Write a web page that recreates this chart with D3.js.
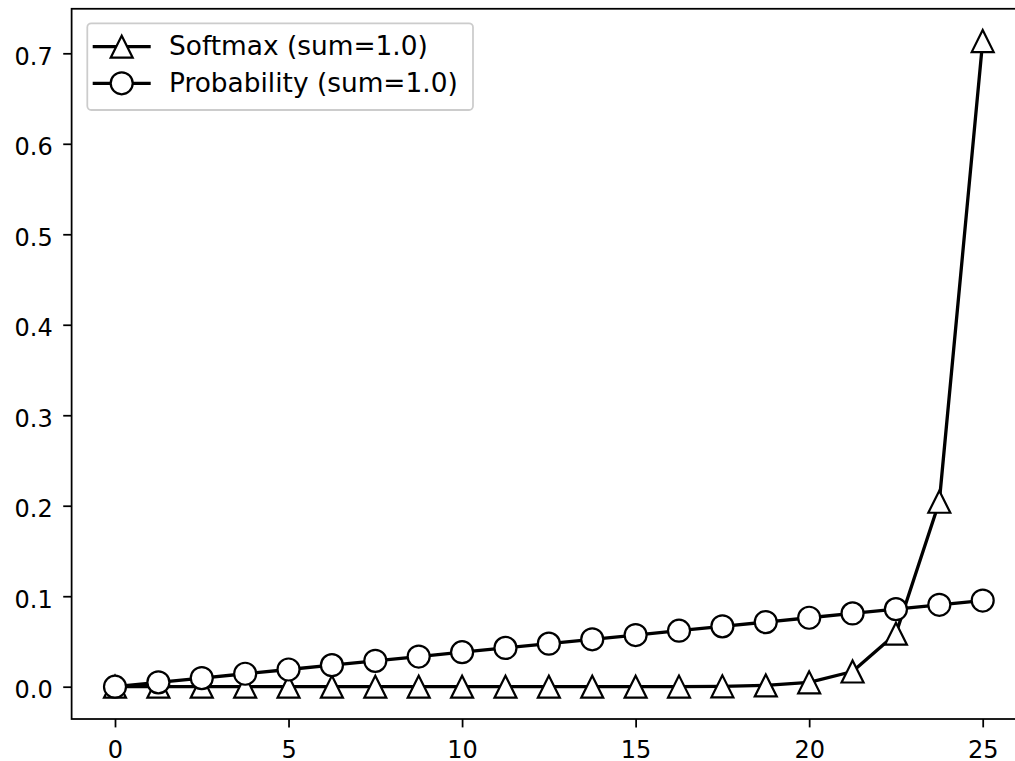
<!DOCTYPE html>
<html>
<head>
<meta charset="utf-8">
<script src="https://cdn.jsdelivr.net/npm/d3@7"></script>
<style>
  html, body { margin: 0; padding: 0; background: #fff; overflow: hidden; }
  svg { display: block; }
  text { font-family: "DejaVu Sans", sans-serif; fill: #000; }
</style>
</head>
<body>
<svg id="chart" width="1015" height="761"></svg>
<script>
const xValues = [0, 1.25, 2.5, 3.75, 5, 6.25, 7.5, 8.75, 10, 11.25, 12.5, 13.75, 15, 16.25, 17.5, 18.75, 20, 21.25, 22.5, 23.75, 25];
const softmaxValues = [0.0000, 0.0000, 0.0000, 0.0000, 0.0000, 0.0000, 0.0000, 0.0000, 0.0000, 0.0000, 0.0000, 0.0000, 0.0000, 0.0001, 0.0004, 0.0014, 0.0048, 0.0168, 0.0586, 0.2044, 0.7135];
const probabilityValues = [0.0000, 0.0048, 0.0095, 0.0143, 0.0190, 0.0238, 0.0286, 0.0333, 0.0381, 0.0429, 0.0476, 0.0524, 0.0571, 0.0619, 0.0667, 0.0714, 0.0762, 0.0810, 0.0857, 0.0905, 0.0952];
const xTicks = [0, 5, 10, 15, 20, 25];
const yTicks = [0.0, 0.1, 0.2, 0.3, 0.4, 0.5, 0.6, 0.7];
const seriesNames = ["Softmax (sum=1.0)", "Probability (sum=1.0)"];

const svg = d3.select("#chart");
const x = d3.scaleLinear().domain([0, 25]).range([115, 982.7]);
const y = d3.scaleLinear().domain([0, 0.7]).range([686.7, 53.3]);

const axLeft = x(-1.25), axRight = x(26.25);
const axTop = y(0.7492), axBottom = y(-0.0357);

const LW = 3.3, MS = 22, MEW = 2.2, FS_TICK = 24, FS_LEG = 26.4, TL = 8.4;

// x axis
const xAxis = svg.append("g").attr("transform", `translate(0,${axBottom})`)
  .call(d3.axisBottom(x).tickValues(xTicks).tickFormat(d3.format("d")).tickSize(TL).tickPadding(13.3));
xAxis.select(".domain").remove();
xAxis.selectAll("line").attr("stroke", "#000").attr("stroke-width", 1.76);
xAxis.selectAll("text").attr("font-size", FS_TICK).attr("font-family", "DejaVu Sans").attr("fill", "#000");

// y axis
const yAxis = svg.append("g").attr("transform", `translate(${axLeft},0)`)
  .call(d3.axisLeft(y).tickValues(yTicks).tickFormat(d3.format(".1f")).tickSize(TL).tickPadding(10.5));
yAxis.select(".domain").remove();
yAxis.selectAll("line").attr("stroke", "#000").attr("stroke-width", 1.76);
yAxis.selectAll("text").attr("font-size", FS_TICK).attr("font-family", "DejaVu Sans").attr("fill", "#000").attr("dy", "0.46em");

// frame
svg.append("rect").attr("x", axLeft).attr("y", axTop).attr("width", axRight - axLeft).attr("height", axBottom - axTop)
  .attr("fill", "none").attr("stroke", "#000").attr("stroke-width", 1.76);

const triPath = (s) => { const h = s / 2; return `M0,${-h}L${-h},${h}L${h},${h}Z`; };

const line = d3.line();

function drawSeries(vals, marker) {
  const pts = xValues.map((xv, i) => [x(xv), y(vals[i])]);
  svg.append("path").attr("d", line(pts)).attr("fill", "none").attr("stroke", "#000")
    .attr("stroke-width", LW).attr("stroke-linejoin", "round").attr("stroke-linecap", "square");
  const g = svg.append("g");
  pts.forEach(p => {
    if (marker === "tri") {
      g.append("path").attr("d", triPath(MS)).attr("transform", `translate(${p[0]},${p[1]})`)
        .attr("fill", "#fff").attr("stroke", "#000").attr("stroke-width", MEW).attr("stroke-linejoin", "miter");
    } else {
      g.append("circle").attr("cx", p[0]).attr("cy", p[1]).attr("r", MS / 2)
        .attr("fill", "#fff").attr("stroke", "#000").attr("stroke-width", MEW);
    }
  });
}
drawSeries(softmaxValues, "tri");
drawSeries(probabilityValues, "circle");

// legend
const lg = svg.append("g");
lg.append("rect").attr("x", 87.3).attr("y", 23.3).attr("width", 473 - 87.3).attr("height", 110 - 23.3)
  .attr("rx", 4).attr("fill", "#fff").attr("fill-opacity", 0.8).attr("stroke", "#ccc").attr("stroke-width", 1.76);
const rows = [46.7, 83.3];
seriesNames.forEach((name, i) => {
  const cy = rows[i];
  lg.append("line").attr("x1", 92.7).attr("x2", 150.7).attr("y1", cy).attr("y2", cy)
    .attr("stroke", "#000").attr("stroke-width", LW);
  if (i === 0) {
    lg.append("path").attr("d", triPath(MS)).attr("transform", `translate(121.7,${cy})`)
      .attr("fill", "#fff").attr("stroke", "#000").attr("stroke-width", MEW);
  } else {
    lg.append("circle").attr("cx", 121.7).attr("cy", cy).attr("r", MS / 2)
      .attr("fill", "#fff").attr("stroke", "#000").attr("stroke-width", MEW);
  }
  lg.append("text").attr("x", 169).attr("y", cy + 8.6).attr("font-size", FS_LEG).text(name);
});
</script>
</body>
</html>
